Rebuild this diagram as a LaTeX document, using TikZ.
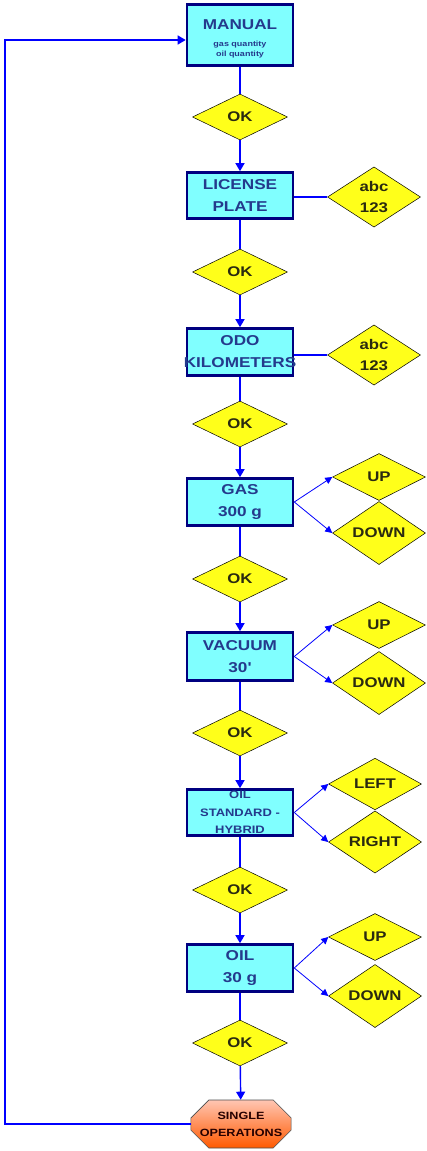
\documentclass[tikz,border=0pt]{standalone}
\usepackage{fontspec}
\newfontfamily\bfont{Liberation Sans}[FakeStretch=1.2]
\usetikzlibrary{shapes.geometric,shapes.misc,arrows.meta}
\definecolor{boxfill}{HTML}{80FFFF}
\definecolor{boxline}{HTML}{000080}
\definecolor{boxtext}{HTML}{243A8C}
\definecolor{dmfill}{HTML}{FFFF1A}
\definecolor{dmtext}{HTML}{2A2A10}
\definecolor{flow}{HTML}{0000FF}
\begin{document}
\begin{tikzpicture}[x=1pt,y=-1pt,
  stepbox/.style={rectangle,draw=boxline,line width=2.6pt,fill=boxfill,text=boxtext,
    minimum width=106pt,inner sep=0pt,align=center,font=\bfont\bfseries\fontsize{14.3}{22}\selectfont},
  okdm/.style={diamond,draw=black,line width=0.5pt,fill=dmfill,text=dmtext,inner sep=0pt,
    minimum width=95pt,minimum height=46pt,align=center,font=\bfont\bfseries\fontsize{14}{21}\selectfont},
  sidedm/.style={okdm,minimum width=93pt,minimum height=47pt},
  mainarrow/.style={draw=flow,line width=1.4pt,-{Triangle[length=8pt,width=9pt]}},
  mainline/.style={draw=flow,line width=1.4pt},
  fan/.style={draw=flow,line width=0.8pt,-{Triangle[length=7pt,width=7pt]}},
  endoct/.style={chamfered rectangle,chamfered rectangle xsep=9pt,chamfered rectangle ysep=9pt,
    draw=black!70,line width=0.6pt,top color=orange!50!red!30!white,bottom color=orange!70!red,
    minimum width=88pt,minimum height=48pt,inner sep=0pt,align=center,text=black!85!red,
    font=\bfont\bfseries\fontsize{10.5}{17}\selectfont}
]
\useasboundingbox (0,0) rectangle (426,1151);

\node[stepbox,minimum height=61pt] (manual) at (240,35) {\rule{0pt}{18pt}MANUAL\\[-5pt]{\fontsize{7.5}{9}\selectfont gas quantity}\\[-12pt]{\fontsize{7.5}{9}\selectfont oil quantity}};
\node[okdm] (ok1) at (240,117) {OK};
\node[stepbox,minimum height=46pt] (license) at (240,195.5) {LICENSE\\PLATE};
\node[sidedm] (abc1) at (374,197) {abc\\123};
\node[okdm] (ok2) at (240,272) {OK};
\node[stepbox,minimum height=47pt] (odo) at (240,352) {ODO\\\makebox[100pt]{KILOMETERS}};
\node[sidedm] (abc2) at (374,355) {abc\\123};
\node[okdm] (ok3) at (240,424) {OK};
\node[stepbox,minimum height=47pt] (gas) at (240,502) {GAS\\300 g};
\node[sidedm] (up1) at (379,477) {UP};
\node[sidedm] (down1) at (379,533) {DOWN};
\node[okdm] (ok4) at (240,579) {OK};
\node[stepbox,minimum height=48pt] (vacuum) at (240,656.5) {VACUUM\\30'};
\node[sidedm] (up2) at (379,625) {UP};
\node[sidedm] (down2) at (379,683) {DOWN};
\node[okdm] (ok5) at (240,733) {OK};
\node[stepbox,minimum height=46pt,font=\bfont\bfseries\fontsize{10.8}{17.5}\selectfont] (oilstd) at (240,812.5) {OIL\\STANDARD -\\HYBRID};
\node[sidedm] (left) at (375,784) {LEFT};
\node[sidedm] (right) at (375,842) {RIGHT};
\node[okdm] (ok6) at (240,890) {OK};
\node[stepbox,minimum height=47pt] (oil) at (240,968) {OIL\\30 g};
\node[sidedm] (up3) at (375,937) {UP};
\node[sidedm] (down3) at (375,996) {DOWN};
\node[okdm] (ok7) at (240,1043) {OK};
\node[endoct] (single) at (241,1124) {SINGLE\\OPERATIONS};

\draw[mainline] (manual) -- (ok1);
\draw[mainarrow] (ok1) -- (license);
\draw[mainline] (license) -- (ok2);
\draw[mainarrow] (ok2) -- (odo);
\draw[mainline] (odo) -- (ok3);
\draw[mainarrow] (ok3) -- (gas);
\draw[mainline] (gas) -- (ok4);
\draw[mainarrow] (ok4) -- (vacuum);
\draw[mainline] (vacuum) -- (ok5);
\draw[mainarrow] (ok5) -- (oilstd);
\draw[mainline] (oilstd) -- (ok6);
\draw[mainarrow] (ok6) -- (oil);
\draw[mainline] (oil) -- (ok7);
\draw[mainarrow] (ok7) -- (single);

\draw[mainline] (abc1.west -| license.east) -- (abc1.west);
\draw[mainline] (abc2.west -| odo.east) -- (abc2.west);

\draw[fan] (gas.east) -- (up1.west);
\draw[fan] (gas.east) -- (down1.west);
\draw[fan] (vacuum.east) -- (up2.west);
\draw[fan] (vacuum.east) -- (down2.west);
\draw[fan] (oilstd.east) -- (left.west);
\draw[fan] (oilstd.east) -- (right.west);
\draw[fan] (oil.east) -- (up3.west);
\draw[fan] (oil.east) -- (down3.west);

\coordinate (fb1) at (5,1124);
\coordinate (fb2) at (5,40);
\draw[mainarrow] (single.west) -- (fb1) -- (fb2) -- (fb2 -| manual.west);
\end{tikzpicture}
\end{document}
